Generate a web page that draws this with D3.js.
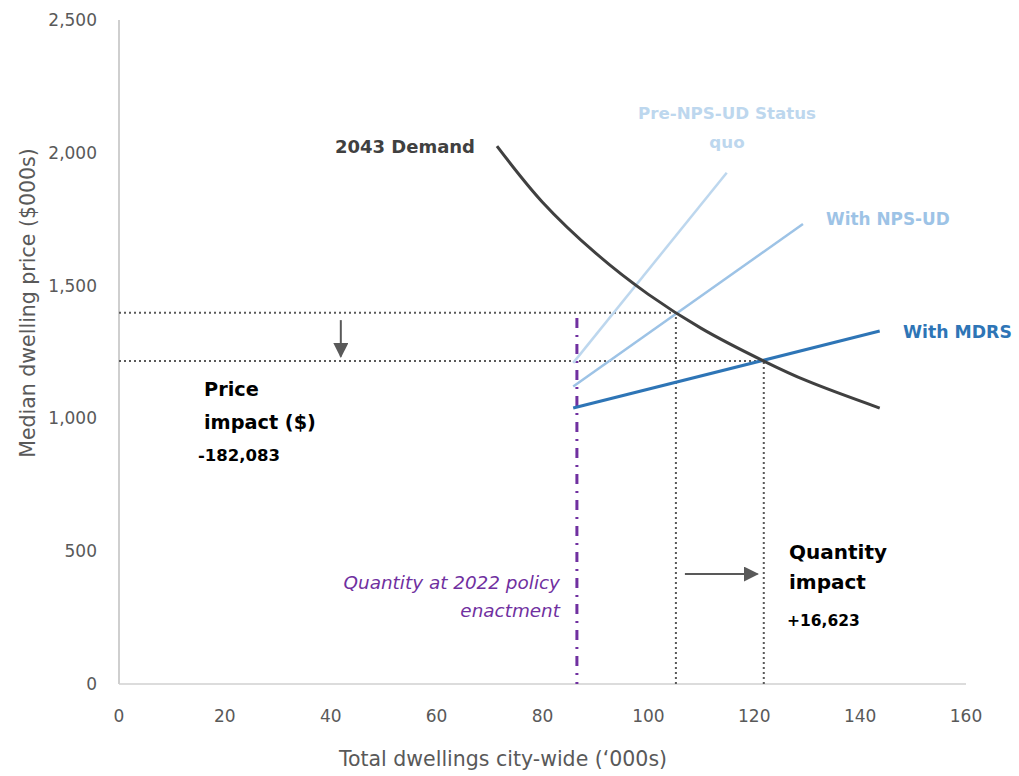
<!DOCTYPE html>
<html>
<head>
<meta charset="utf-8">
<script src="https://cdn.jsdelivr.net/npm/d3@7"></script>
<style>
  body { margin: 0; background: #fff; }
  svg { font-family: 'DejaVu Sans', sans-serif; }
  .tick-label { fill: #595959; font-size: 17px; }
  .axis-title { fill: #595959; font-size: 20.5px; }
</style>
</head>
<body>
<svg width="1019" height="776"></svg>
<script>
  // values
  const demandQ = [71.4, 80, 90, 100, 110, 121.8, 130, 143.7];
  const demandP = [2025, 1814, 1623, 1467, 1339, 1216, 1141, 1039];

  const supplyNames = ['Pre-NPS-UD Status quo', 'With NPS-UD', 'With MDRS'];
  const supplyQ = [[85.8, 114.8], [85.8, 129.2], [85.8, 143.7]];
  const supplyP = [[1209, 1925], [1120, 1732], [1039, 1329]];
  const supplyColors = ['#bdd7ee', '#9dc3e6', '#2e75b6'];

  const eqBefore = {q: 105.2, p: 1398};
  const eqAfter = {q: 121.8, p: 1216};
  const policyQ = 86.5;
  const policyTop = 1378;

  const xTicks = [0, 20, 40, 60, 80, 100, 120, 140, 160];
  const yTicks = [0, 500, 1000, 1500, 2000, 2500];

  const svg = d3.select('svg');
  const x = d3.scaleLinear().domain([0, 160]).range([119, 966]);
  const y = d3.scaleLinear().domain([0, 2500]).range([684, 20]);

  // axes
  svg.append('line')
    .attr('x1', x(0)).attr('x2', x(0))
    .attr('y1', y(2500)).attr('y2', y(0))
    .attr('stroke', '#bfbfbf').attr('stroke-width', 1.5);
  svg.append('line')
    .attr('x1', x(0)).attr('x2', x(160))
    .attr('y1', y(0)).attr('y2', y(0))
    .attr('stroke', '#d0d0d0').attr('stroke-width', 1.5);

  const fmt = d3.format(',');
  svg.selectAll('.ylab').data(yTicks)
    .enter().append('text')
      .attr('class', 'tick-label')
      .attr('x', 97)
      .attr('y', d => y(d))
      .attr('dy', '0.35em')
      .attr('text-anchor', 'end')
      .text(d => fmt(d));

  svg.selectAll('.xlab').data(xTicks)
    .enter().append('text')
      .attr('class', 'tick-label')
      .attr('x', d => x(d))
      .attr('y', 716)
      .attr('dy', '0.35em')
      .attr('text-anchor', 'middle')
      .text(d => d);

  svg.append('text')
    .attr('class', 'axis-title')
    .attr('transform', 'translate(35,303) rotate(-90)')
    .attr('text-anchor', 'middle')
    .text('Median dwelling price ($000s)');

  svg.append('text')
    .attr('class', 'axis-title')
    .attr('x', 503).attr('y', 766)
    .attr('text-anchor', 'middle')
    .text('Total dwellings city-wide (‘000s)');

  // dotted guide lines
  const guides = [
    [0, eqBefore.p, eqBefore.q, eqBefore.p],
    [0, eqAfter.p, eqAfter.q, eqAfter.p],
    [eqBefore.q, 0, eqBefore.q, eqBefore.p],
    [eqAfter.q, 0, eqAfter.q, eqAfter.p]
  ];
  svg.selectAll('.guide').data(guides)
    .enter().append('line')
      .attr('x1', d => x(d[0])).attr('y1', d => y(d[1]))
      .attr('x2', d => x(d[2])).attr('y2', d => y(d[3]))
      .attr('stroke', '#595959')
      .attr('stroke-width', 2)
      .attr('stroke-dasharray', '2,3');

  // policy line
  svg.append('line')
    .attr('x1', x(policyQ)).attr('x2', x(policyQ))
    .attr('y1', y(policyTop)).attr('y2', y(0))
    .attr('stroke', '#7030a0')
    .attr('stroke-width', 3)
    .attr('stroke-dasharray', '10,7,2,7');

  // supply lines
  const line = d3.line().x(d => x(d[0])).y(d => y(d[1]));
  supplyNames.forEach((name, i) => {
    svg.append('path')
      .attr('d', line(d3.zip(supplyQ[i], supplyP[i])))
      .attr('fill', 'none')
      .attr('stroke', supplyColors[i])
      .attr('stroke-width', i === 2 ? 3 : 2.5);
  });

  // demand curve
  svg.append('path')
    .attr('d', line.curve(d3.curveCatmullRom)(d3.zip(demandQ, demandP)))
    .attr('fill', 'none')
    .attr('stroke', '#404040')
    .attr('stroke-width', 3);

  // arrows
  const defs = svg.append('defs');
  defs.append('marker')
    .attr('id', 'head')
    .attr('viewBox', '0 0 10 10')
    .attr('refX', 9).attr('refY', 5)
    .attr('markerWidth', 7.5).attr('markerHeight', 7.5)
    .attr('markerUnits', 'strokeWidth')
    .attr('orient', 'auto')
    .append('path')
      .attr('d', 'M0,0L10,5L0,10z')
      .attr('fill', '#595959');

  svg.append('line')
    .attr('x1', x(41.9)).attr('x2', x(41.9))
    .attr('y1', y(1370)).attr('y2', y(1233))
    .attr('stroke', '#595959').attr('stroke-width', 2)
    .attr('marker-end', 'url(#head)');
  svg.append('line')
    .attr('x1', x(106.9)).attr('x2', x(120.6))
    .attr('y1', y(414)).attr('y2', y(414))
    .attr('stroke', '#595959').attr('stroke-width', 2)
    .attr('marker-end', 'url(#head)');

  // labels
  const label = (lines, px, py, opts) => {
    const t = svg.append('text')
      .attr('x', px).attr('y', py)
      .attr('fill', opts.color)
      .attr('font-size', opts.size)
      .attr('font-weight', opts.weight || 'bold')
      .attr('font-style', opts.style || 'normal')
      .attr('text-anchor', opts.anchor || 'start');
    lines.forEach((s, i) => {
      t.append('tspan').attr('x', px).attr('dy', i === 0 ? 0 : opts.lh).text(s);
    });
  };

  label(['2043 Demand'], 475, 153, {color: '#404040', size: 18, anchor: 'end'});
  label(['Pre-NPS-UD Status', 'quo'], 727, 119, {color: supplyColors[0], size: 16.7, anchor: 'middle', lh: 29});
  label(['With NPS-UD'], 826, 225, {color: supplyColors[1], size: 16.9});
  label(['With MDRS'], 903, 338, {color: supplyColors[2], size: 17.3});
  label(['Price', 'impact ($)'], 204, 396, {color: '#000', size: 19.3, lh: 33});
  label(['-182,083'], 198, 461, {color: '#000', size: 16.5});
  label(['Quantity', 'impact'], 789, 559, {color: '#000', size: 20, lh: 30});
  label(['+16,623'], 787, 626, {color: '#000', size: 15.5});
  label(['Quantity at 2022 policy', 'enactment'], 560, 589, {color: '#7030a0', size: 18.4, weight: 'normal', style: 'italic', anchor: 'end', lh: 28});
</script>
</body>
</html>
